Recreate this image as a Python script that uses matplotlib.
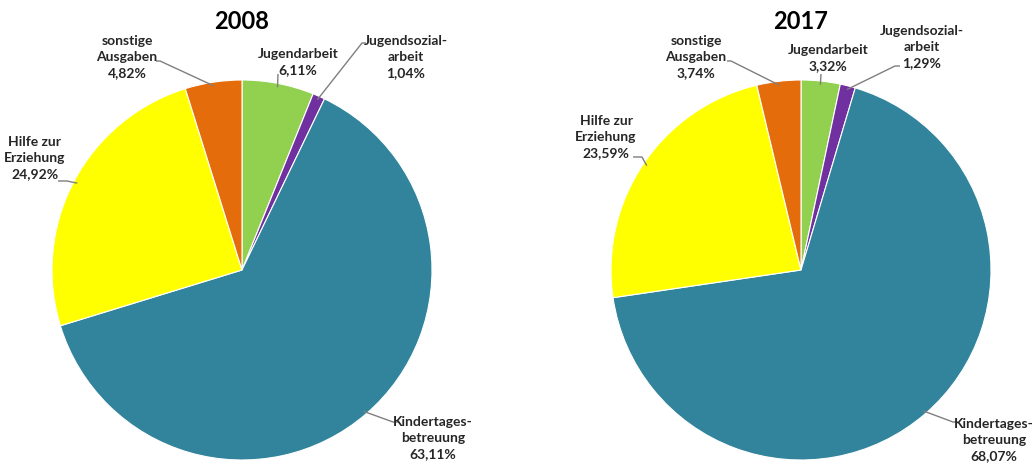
import numpy as np
import matplotlib
matplotlib.use("Agg")
import matplotlib.pyplot as plt

W, H = 1034, 465

categories = ["Jugendarbeit", "Jugendsozial-\narbeit", "Kindertages-\nbetreuung",
              "Hilfe zur\nErziehung", "sonstige\nAusgaben"]
years = ["2008", "2017"]
values_2008 = [6.11, 1.04, 63.11, 24.92, 4.82]
values_2017 = [3.32, 1.29, 68.07, 23.59, 3.74]
pct_2008 = ["6,11%", "1,04%", "63,11%", "24,92%", "4,82%"]
pct_2017 = ["3,32%", "1,29%", "68,07%", "23,59%", "3,74%"]

colors = ["#92D050", "#7030A0", "#31849B", "#FFFF00", "#E46C0A"]

plt.rcParams['font.family'] = ['Lato', 'DejaVu Sans']

fig = plt.figure(figsize=(W / 100, H / 100), dpi=100)
ax = fig.add_axes([0, 0, 1, 1])
ax.set_xlim(0, W)
ax.set_ylim(0, H)
ax.set_aspect('equal')
ax.axis('off')

def fy(y):
    return H - y

R = 190
# layout (pixel coords, y downward): pie centre, title, label centres, elbow points
layouts = [
    dict(center=(242, 270), title=(242, 22),
         text=[(298, 62), (406, 57), (433, 438), (35, 158), (127, 57)],
         elbow=[None, (362, 43), (393, 422), (67, 181), (160, 61)],
         tend=[(278, 74), (366, 43), (398, 422), (58, 181), (156, 61)]),
    dict(center=(801, 270), title=(801, 22),
         text=[(828, 58), (922, 47), (994, 440), (606, 137), (696, 57)],
         elbow=[None, (895, 66), (953, 422), (642, 157), (731, 61)],
         tend=[(821, 74), (900, 66), (958, 422), (633, 157), (727, 61)]),
]

for year, vals, pcts, lay in zip(years, [values_2008, values_2017],
                                 [pct_2008, pct_2017], layouts):
    cx, cy = lay["center"]
    ax.pie(vals, colors=colors, startangle=90, counterclock=False,
           center=(cx, fy(cy)), radius=R,
           wedgeprops=dict(edgecolor="white", linewidth=0.8))
    ax.text(lay["title"][0], fy(lay["title"][1]), year, ha="center", va="center",
            fontsize=17, fontweight="bold", color="black")
    cum = np.cumsum(vals) / np.sum(vals)
    mids = cum - np.array(vals) / np.sum(vals) / 2
    for i, (cat, p) in enumerate(zip(categories, pcts)):
        th = np.deg2rad(90 - 360 * mids[i])
        ax_x = cx + 0.98 * R * np.cos(th)
        ax_y = fy(cy) + 0.98 * R * np.sin(th)
        tx, ty = lay["tend"][i]
        el = lay["elbow"][i]
        if el is None:
            xs = [ax_x, tx]
            ys = [ax_y, fy(ty)]
        else:
            xs = [ax_x, el[0], tx]
            ys = [ax_y, fy(el[1]), fy(ty)]
        ax.plot(xs, ys, color="#7F7F7F", lw=1, solid_capstyle="butt")
        lx, ly = lay["text"][i]
        ax.text(lx, fy(ly), cat + "\n" + p, ha="center", va="center",
                multialignment="center", fontsize=10, fontweight="bold",
                color="#262626", linespacing=1.4)

ax.set_xlim(0, W)
ax.set_ylim(0, H)
fig.savefig("out.png", dpi=100)
